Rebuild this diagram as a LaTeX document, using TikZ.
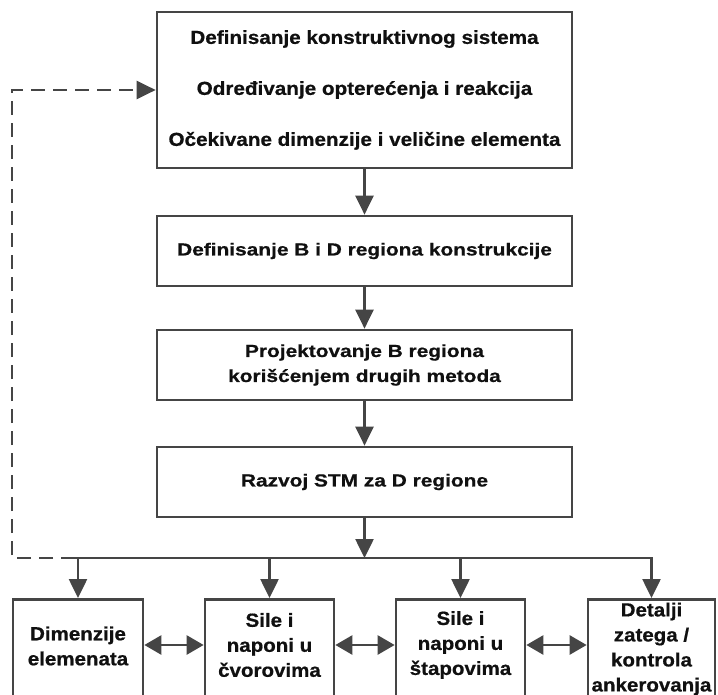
\documentclass[tikz,border=0pt]{standalone}
\usepackage{fontspec}
\setmainfont{Liberation Sans}
\newfontfamily\topf[FakeStretch=1.1, BoldFeatures={FakeBold=0.7}]{Liberation Sans}
\newfontfamily\midf[FakeStretch=1.2, BoldFeatures={FakeBold=0.7}]{Liberation Sans}
\newfontfamily\botf[FakeStretch=1.08, BoldFeatures={FakeBold=0.7}]{Liberation Sans}
\usetikzlibrary{arrows.meta}
\definecolor{ln}{HTML}{454545}
\definecolor{tx}{HTML}{101010}
\begin{document}
\begin{tikzpicture}[x=1pt,y=-1pt,
  box/.style={draw=ln, line width=2.7pt, rectangle, inner sep=0pt, text=tx, align=center},
  topbox/.style={box, minimum width=415pt, minimum height=156pt, font=\topf\bfseries\fontsize{18.8}{51}\selectfont},
  midbox/.style={box, minimum width=415pt, minimum height=70pt, font=\midf\bfseries\fontsize{17.4}{25}\selectfont},
  botbox/.style={box, minimum height=130pt, anchor=north},
  bottxt/.style={inner sep=0pt, text=tx, align=center, font=\botf\bfseries\fontsize{19}{25}\selectfont},
  arr/.style={draw=ln, line width=2.6pt, -{Triangle[length=19pt,width=18pt]}},
  dblarr/.style={draw=ln, line width=2.6pt, {Triangle[length=17pt,width=19pt]}-{Triangle[length=17pt,width=19pt]}},
  fb/.style={draw=ln, line width=2.6pt, dash pattern=on 14pt off 8pt, -{Triangle[length=19pt,width=18pt]}},
  busline/.style={draw=ln, line width=2.6pt}]
\useasboundingbox (0,0) rectangle (718,695);
\clip (0,0) rectangle (718,695);

\node[topbox] (top) at (364.5,90) {Definisanje konstruktivnog sistema\\Određivanje opterećenja i reakcija\\Očekivane dimenzije i veličine elementa};
\node[midbox] (r2) at (364.5,251) {Definisanje B i D regiona konstrukcije};
\node[midbox] (r3) at (364.5,365) {Projektovanje B regiona\\korišćenjem drugih metoda};
\node[midbox] (r4) at (364.5,482) {Razvoj STM za D regione};

\coordinate (js) at (75,558);
\coordinate (je) at (653,558);
\coordinate (dl) at (12,558);

\node[botbox, minimum width=130pt] (b1) at (78,598) {};
\node[botbox, minimum width=129pt] (b2) at (269.5,598) {};
\node[botbox, minimum width=129pt] (b3) at (460.5,598) {};
\node[botbox, minimum width=127pt] (b4) at (651.5,598) {};

\node[bottxt] (t1) at (78,646) {Dimenzije\\elemenata};
\node[bottxt] (t2) at (269.5,645) {Sile i\\naponi u\\čvorovima};
\node[bottxt] (t3) at (460.5,645) {Sile i\\naponi u\\štapovima};
\node[bottxt] (t4) at (651.5,649) {Detalji\\zatega /\\kontrola\\ankerovanja};

\draw[arr] (top.south) -- (r2.north);
\draw[arr] (r2.south) -- (r3.north);
\draw[arr] (r3.south) -- (r4.north);
\draw[arr] (r4.south) -- (r4.south |- js);
\draw[busline] (js) -- (je);
\draw[arr] (b1.north |- js) -- (b1.north);
\draw[arr] (b2.north |- js) -- (b2.north);
\draw[arr] (b3.north |- js) -- (b3.north);
\draw[arr] (b4.north |- js) -- (b4.north);
\draw[fb] (js) -- (dl) -- (top.west -| dl) -- (top.west);

\draw[dblarr] (b1.east |- 0,645) -- (b2.west |- 0,645);
\draw[dblarr] (b2.east |- 0,645) -- (b3.west |- 0,645);
\draw[dblarr] (b3.east |- 0,645) -- (b4.west |- 0,645);
\end{tikzpicture}
\end{document}
